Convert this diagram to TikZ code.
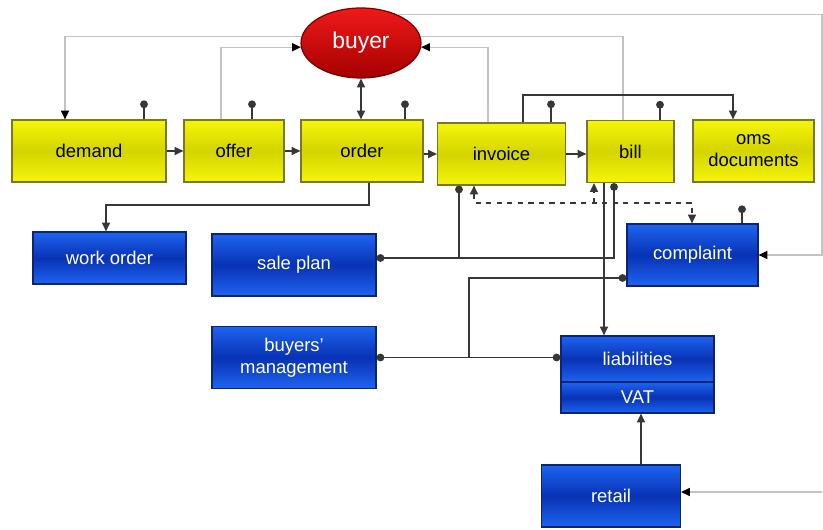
\documentclass[tikz,border=0pt]{standalone}
\usepackage{fontspec}
\setmainfont{Liberation Sans}
\usepackage{tikz}
\usetikzlibrary{arrows.meta,shapes.geometric}

\definecolor{boxyellow}{RGB}{245,245,10}
\definecolor{boxolive}{RGB}{212,212,0}
\definecolor{yellowline}{RGB}{120,120,40}
\definecolor{boxblue}{RGB}{30,100,240}
\definecolor{boxdeep}{RGB}{8,50,180}
\definecolor{blueline}{RGB}{15,35,110}
\definecolor{linkdark}{RGB}{55,55,55}
\definecolor{linklight}{RGB}{195,195,195}

\begin{document}
\begin{tikzpicture}[x=0.02cm,y=-0.02cm,
    doc/.style={draw=yellowline,line width=0.7pt,top color=boxyellow,bottom color=boxyellow,middle color=boxolive,
        inner sep=0pt,minimum height=1.24cm,align=center,font=\fontsize{10.5}{12.5}\selectfont},
    unit/.style={draw=blueline,line width=0.7pt,top color=boxblue,bottom color=boxblue,middle color=boxdeep,
        text=white,inner sep=0pt,minimum height=1.24cm,align=center,font=\fontsize{10.5}{12.5}\selectfont},
    flow/.style={draw=linkdark,line width=0.9pt,-{Triangle[length=5pt,width=4.6pt]}},
    twoway/.style={draw=linkdark,line width=0.9pt,{Triangle[length=5pt,width=4.6pt]}-{Triangle[length=5pt,width=4.6pt]}},
    pin/.style={draw=linkdark,line width=0.9pt,-{Circle[length=4.4pt]}},
    pinpin/.style={draw=linkdark,line width=0.9pt,{Circle[length=4.4pt]}-{Circle[length=4.4pt]}},
    faint/.style={draw=linklight,line width=0.7pt},
    faintflow/.style={faint,-{Triangle[length=5pt,width=4.6pt,color=black,fill=black]}},
    dashflow/.style={draw=linkdark,line width=0.8pt,dashed,-{Triangle[length=5pt,width=4.6pt]}},
    dashtwo/.style={draw=linkdark,line width=0.8pt,dashed,{Triangle[length=5pt,width=4.6pt]}-{Triangle[length=5pt,width=4.6pt]}}]
\useasboundingbox (0,0) rectangle (823,530);

\node[ellipse,draw={rgb,255:red,120;green,0;blue,0},line width=0.7pt,top color={rgb,255:red,240;green,25;blue,25},
    bottom color={rgb,255:red,165;green,0;blue,0},text=white,inner sep=0pt,minimum width=2.4cm,minimum height=1.4cm,
    font=\fontsize{13}{15}\selectfont] (buyer) at (361,43) {buyer};

\node[doc,minimum width=3.08cm] (demand) at (89,151) {demand};
\node[doc,minimum width=2.0cm] (offer) at (234,151) {offer};
\node[doc,minimum width=2.44cm] (order) at (362,151) {order};
\node[doc,minimum width=2.56cm] (invoice) at (501.5,154) {invoice};
\node[doc,minimum width=1.74cm] (bill) at (630.5,151.5) {bill};
\node[doc,minimum width=2.42cm] (oms) at (753.5,151) {oms\\documents};

\node[unit,minimum width=3.06cm,minimum height=1.04cm] (workorder) at (109.5,258) {work order};
\node[unit,minimum width=3.28cm] (saleplan) at (294,265) {sale plan};
\node[unit,minimum width=3.28cm] (buyersmgmt) at (294,357.5) {buyers'\\management};
\node[unit,minimum width=2.62cm] (complaint) at (692.5,255) {complaint};
\node[unit,minimum width=3.06cm,minimum height=0.92cm] (liab) at (637.5,359) {liabilities};
\node[unit,minimum width=3.06cm,minimum height=0.62cm] (vat) at (637.5,397.5) {VAT};
\node[unit,minimum width=2.78cm] (retail) at (611,496) {retail};

\coordinate (rim) at (822,492);

\draw[flow] (demand) -- (offer);
\draw[flow] (offer) -- (order);
\draw[flow] (order.east |- invoice) -- (invoice);
\draw[flow] (invoice.east) -- (invoice.east -| bill.west);
\draw[twoway] (buyer.south) -- (buyer.south |- order.north);

\draw[faintflow] (buyer.174) -| (65,0 |- demand.north);
\draw[faintflow] (221,0 |- offer.north) |- (buyer.184);
\draw[faintflow] (488,0 |- invoice.north) |- (buyer.356);
\draw[faint] (623,0 |- bill.north) |- (buyer.6);
\draw[faintflow] (buyer.38) -| (822,0 |- complaint.east) -- (complaint.east);
\draw[faintflow] (rim) -- (rim -| retail.east);

\draw[pin] (144,0 |- demand.north) -- ++(0,-19);
\draw[pin] (252,0 |- offer.north) -- ++(0,-19);
\draw[pin] (405,0 |- order.north) -- ++(0,-19);
\draw[pin] (551,0 |- invoice.north) -- ++(0,-22);
\draw[pin] (660,0 |- bill.north) -- ++(0,-19);
\draw[pin] (742,0 |- complaint.north) -- ++(0,-18);

\draw[flow] (523,0 |- invoice.north) -- (523,95) -| (733,0 |- oms.north);
\draw[flow] (369,0 |- order.south) -- (369,205) -| (106,0 |- workorder.north);

\draw[pinpin] (saleplan.east |- 0,258) -| (614,0 |- bill.south);
\draw[pin] (459,258) -- (459,0 |- invoice.south);

\draw[dashtwo] (474,0 |- invoice.south) |- (692,203) -- (692,0 |- complaint.north);
\draw[dashflow] (594,203) -- (594,0 |- bill.south);

\draw[flow] (604,0 |- bill.south) -- (604,0 |- liab.north);
\draw[pinpin] (buyersmgmt.east) -- (buyersmgmt.east -| liab.west);
\draw[pin] (469,357.5) |- (complaint.west |- 0,278);
\draw[flow] (641,0 |- retail.north) -- (641,0 |- vat.south);
\end{tikzpicture}
\end{document}
